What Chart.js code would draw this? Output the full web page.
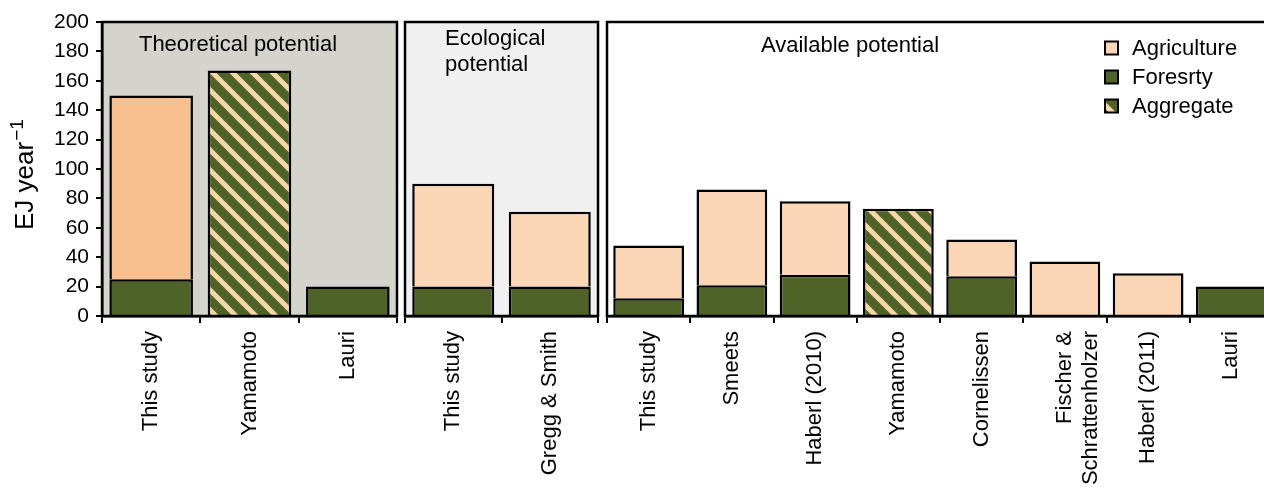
<!DOCTYPE html>
<html>
<head>
<meta charset="utf-8">
<script src="https://cdn.jsdelivr.net/npm/chart.js@4.4.1/dist/chart.umd.min.js"></script>
<style>
  html, body { margin: 0; padding: 0; background: #fff; overflow: hidden; width: 1264px; height: 487px; }
  canvas { position: absolute; top: 0; }
  #c1 { left: 0px; }
  #c2 { left: 400px; }
  #c3 { left: 600px; }
</style>
</head>
<body>
<canvas id="c1" width="400" height="487"></canvas>
<canvas id="c2" width="200" height="487"></canvas>
<canvas id="c3" width="680" height="487"></canvas>
<script>
// ---------- DATA ----------
const theoLabels = ['This study', 'Yamamoto', 'Lauri'];
const theoForestry = [25, null, 20];
const theoAgriculture = [125, null, null];
const theoAggregate = [null, 167, null];

const ecoLabels = ['This study', 'Gregg & Smith'];
const ecoForestry = [20, 20];
const ecoAgriculture = [70, 51];
const ecoAggregate = [null, null];

const availLabels = ['This study', 'Smeets', 'Haberl (2010)', 'Yamamoto', 'Cornelissen', ['Fischer &', 'Schrattenholzer'], 'Haberl (2011)', 'Lauri'];
const availForestry = [12, 21, 28, null, 27, null, null, 20];
const availAgriculture = [36, 65, 50, null, 25, 37, 29, null];
const availAggregate = [null, null, null, 73, null, null, null, null];

const yTickMin = 0, yTickMax = 200, yTickStep = 20;
const yTitleMain = 'EJ year';
const yTitleSup = '\u22121';
const legendNames = ['Agriculture', 'Foresrty', 'Aggregate'];

// ---------- STYLE ----------
const FONT = "'Liberation Sans', Arial, sans-serif";
Chart.defaults.font.family = FONT;
Chart.defaults.color = '#000';
const GREEN = '#4F6228';
const PEACH = '#FBD6B6';
const PEACH_STRONG = '#F8BF8F';
const STRIPE = '#F6D8A8';
const PLOT_TOP = 22, PLOT_BOTTOM = 316, H = 487;

function makePattern() {
  const p = document.createElement('canvas');
  p.width = 20; p.height = 20;
  const c = p.getContext('2d');
  c.fillStyle = GREEN; c.fillRect(0, 0, 20, 20);
  c.strokeStyle = STRIPE; c.lineWidth = 5;
  c.beginPath();
  c.moveTo(-10, -10); c.lineTo(30, 30);
  c.moveTo(-10, 10); c.lineTo(10, 30);
  c.moveTo(10, -10); c.lineTo(30, 10);
  c.stroke();
  return document.getElementById('c1').getContext('2d').createPattern(p, 'repeat');
}
const HATCH = makePattern();

function panelPlugin(bg, drawExtra) {
  return {
    id: 'panel',
    beforeDraw(chart) {
      const a = chart.chartArea, ctx = chart.ctx;
      ctx.save();
      ctx.fillStyle = bg;
      ctx.fillRect(a.left, a.top, a.right - a.left, a.bottom - a.top);
      ctx.restore();
    },
    afterDraw(chart) {
      const a = chart.chartArea, ctx = chart.ctx;
      ctx.save();
      ctx.strokeStyle = '#000'; ctx.lineWidth = 2.5;
      ctx.strokeRect(a.left, a.top, a.right - a.left, a.bottom - a.top);
      ctx.fillStyle = '#000';
      ctx.font = '22px ' + FONT;
      if (drawExtra) drawExtra(chart, ctx);
      ctx.restore();
    }
  };
}

function makeChart(id, labels, forestry, agriculture, aggregate, agriColors, opts) {
  return new Chart(document.getElementById(id), {
    type: 'bar',
    data: {
      labels: labels,
      datasets: [
        { label: legendNames[1], data: forestry, backgroundColor: GREEN },
        { label: legendNames[0], data: agriculture, backgroundColor: agriColors },
        { label: legendNames[2], data: aggregate, backgroundColor: HATCH }
      ]
    },
    options: {
      responsive: false,
      animation: false,
      devicePixelRatio: 1,
      layout: { padding: opts.padding },
      datasets: { bar: { borderColor: '#000', borderWidth: 2.5, barPercentage: 0.85, categoryPercentage: 1 } },
      plugins: { legend: { display: false }, tooltip: { enabled: false } },
      scales: {
        x: {
          stacked: true,
          grid: { display: true, drawOnChartArea: false, drawTicks: true, tickLength: 7, color: '#000', lineWidth: 2 },
          border: { display: true, color: '#000', width: 2.5 },
          ticks: { minRotation: 90, maxRotation: 90, autoSkip: false, padding: 8, font: { size: 22, family: FONT }, color: '#000' },
          afterFit: s => { s.height = H - PLOT_BOTTOM; }
        },
        y: {
          display: opts.showY,
          stacked: true,
          min: yTickMin, max: yTickMax,
          ticks: { stepSize: yTickStep, padding: 7, font: { size: 21, family: FONT }, color: '#000' },
          grid: { display: true, drawOnChartArea: false, drawTicks: true, tickLength: 6, color: '#000', lineWidth: 2 },
          border: { display: true, color: '#000', width: 2.5 },
          title: { display: false },
          afterFit: s => { if (opts.showY) s.width = 102; }
        }
      }
    },
    plugins: [panelPlugin(opts.bg, opts.extra)]
  });
}

makeChart('c1', theoLabels, theoForestry, theoAgriculture, theoAggregate,
  [PEACH_STRONG, PEACH, PEACH],
  { padding: { top: PLOT_TOP, right: 3, left: 0, bottom: 0 }, showY: true, bg: '#D4D4CC',
    extra: (chart, ctx) => {
      ctx.textAlign = 'center'; ctx.textBaseline = 'middle';
      ctx.fillText('Theoretical potential', 238, 45);
      // y-axis title (rotated, with superscript)
      ctx.save();
      ctx.translate(33, 230);
      ctx.rotate(-Math.PI / 2);
      ctx.textAlign = 'left'; ctx.textBaseline = 'alphabetic';
      ctx.font = '26px ' + FONT;
      ctx.fillText(yTitleMain, 0, 0);
      const w = ctx.measureText(yTitleMain).width;
      ctx.font = '19px ' + FONT;
      ctx.fillText(yTitleSup, w + 1, -10);
      ctx.restore();
    } });

makeChart('c2', ecoLabels, ecoForestry, ecoAgriculture, ecoAggregate,
  PEACH,
  { padding: { top: PLOT_TOP, right: 2, left: 5, bottom: 0 }, showY: false, bg: '#F0F0F0',
    extra: (chart, ctx) => {
      ctx.textAlign = 'left'; ctx.textBaseline = 'middle';
      ctx.fillText('Ecological', 45, 39);
      ctx.fillText('potential', 45, 65);
    } });

makeChart('c3', availLabels, availForestry, availAgriculture, availAggregate,
  PEACH,
  { padding: { top: PLOT_TOP, right: 7, left: 7, bottom: 0 }, showY: false, bg: '#FFFFFF',
    extra: (chart, ctx) => {
      ctx.textAlign = 'center'; ctx.textBaseline = 'middle';
      ctx.fillText('Available potential', 250, 46);
      const fills = [PEACH, GREEN, HATCH];
      const ys = [48, 77, 106];
      ctx.textAlign = 'left';
      for (let i = 0; i < 3; i++) {
        ctx.fillStyle = fills[i];
        ctx.fillRect(505, ys[i] - 6.5, 13, 13);
        ctx.strokeStyle = '#000'; ctx.lineWidth = 2;
        ctx.strokeRect(505, ys[i] - 6.5, 13, 13);
        ctx.fillStyle = '#000';
        ctx.fillText(legendNames[i], 532, ys[i] + 1);
      }
    } });
</script>
</body>
</html>
